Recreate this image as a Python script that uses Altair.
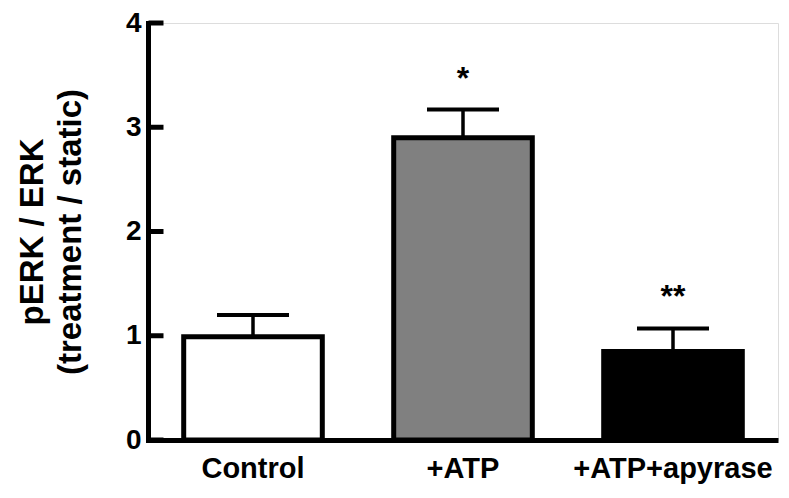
import altair as alt
import pandas as pd

categories = ["Control", "+ATP", "+ATP+apyrase"]
means = [0.99, 2.90, 0.85]
errors = [0.21, 0.27, 0.22]
fills = ["#ffffff", "#808080", "#000000"]
stars = ["", "*", "**"]
star_pos = [0.0, 3.37, 1.28]
y_ticks = [0, 1, 2, 3, 4]

df = pd.DataFrame({
    "cat": categories,
    "mean": means,
    "hi": [m + e for m, e in zip(means, errors)],
    "fill": fills,
    "star": stars,
    "star_y": star_pos,
})
ticks_df = pd.DataFrame({"t": y_ticks})

FONT = "Liberation Sans"

x_enc = alt.X(
    "cat:N",
    sort=categories,
    scale=alt.Scale(paddingInner=0.34, paddingOuter=0.17),
    axis=alt.Axis(
        title=None, labelAngle=0, ticks=False, labelFontSize=29, labelPadding=14,
        labelAlign="center", labelBaseline="top", labelLimit=400, labelOverlap=False,
    ),
)
y_scale = alt.Scale(domain=[0, 4], nice=False)
y_enc = alt.Y(
    "mean:Q",
    scale=y_scale,
    axis=alt.Axis(
        title=["pERK / ERK", "(treatment / static)"],
        values=y_ticks, format="d", ticks=False, grid=False, labelFontSize=28,
        labelPadding=7, domainCap="square",
        titleFont=FONT, titleFontSize=33, titleFontWeight="bold", titleColor="black",
        titleLineHeight=38, titleAngle=270, titleBaseline="alphabetic",
        titleAlign="center", titleX=-106,
    ),
)

base = alt.Chart(df)

bars = base.mark_bar(stroke="black", strokeWidth=5, opacity=1).encode(
    x=x_enc,
    y=y_enc,
    fill=alt.Fill("fill:N", scale=None),
)
stems = base.mark_rule(color="black", strokeWidth=3.5, opacity=1).encode(
    x=alt.X("cat:N", sort=categories),
    y=alt.Y("mean:Q", scale=y_scale),
    y2="hi:Q",
)
caps = base.mark_tick(
    color="black", size=72, thickness=4, orient="horizontal", opacity=1
).encode(
    x=alt.X("cat:N", sort=categories),
    y=alt.Y("hi:Q", scale=y_scale),
)
star_text = base.mark_text(
    font=FONT, fontSize=32, fontWeight="bold", color="black", baseline="alphabetic"
).encode(
    x=alt.X("cat:N", sort=categories),
    y=alt.Y("star_y:Q", scale=y_scale),
    text="star:N",
)
tick_marks = alt.Chart(ticks_df).mark_tick(
    color="black", size=15, thickness=5, orient="horizontal", opacity=1
).encode(
    x=alt.value(8),
    y=alt.Y("t:Q", scale=y_scale),
)

chart = alt.layer(bars, stems, caps, star_text, tick_marks).properties(
    width=630,
    height=417,
    padding={"left": 140, "top": 15, "right": 3, "bottom": 50},
    autosize=alt.AutoSizeParams(type="none"),
).configure_view(stroke=None).configure(background="white").configure_axis(
    domainColor="black", domainWidth=5, domainOpacity=1,
    labelFont=FONT, labelFontWeight="bold", labelColor="black",
)

chart.save("out.html", embed_options={"renderer": "svg", "actions": False})
